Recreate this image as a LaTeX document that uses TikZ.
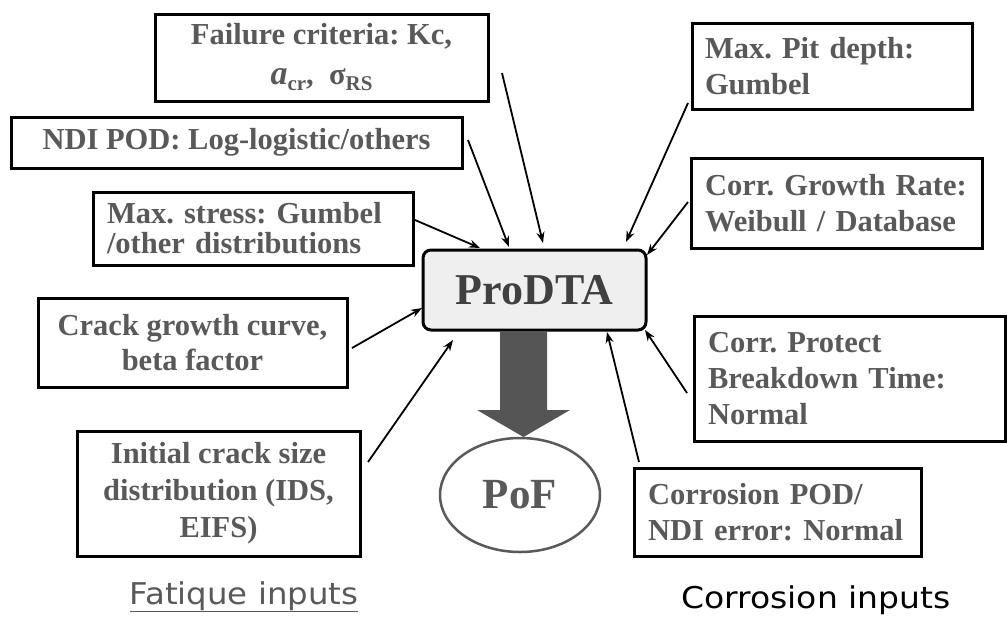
\documentclass[tikz,border=0pt]{standalone}
\usepackage{fontspec}
\setmainfont{Liberation Serif}
\newfontfamily\labfont{DejaVu Sans}
\usetikzlibrary{arrows.meta,shapes.geometric}
\definecolor{txtgray}{HTML}{595959}
\definecolor{titlegray}{HTML}{404040}
\definecolor{arrgray}{HTML}{555555}
\definecolor{boxfill}{HTML}{EFEFEF}
\frenchspacing
\begin{document}
\begin{tikzpicture}[x=1pt,y=-1pt,
  inbox/.style={draw=black, line width=3pt, inner sep=0pt, text=txtgray},
  tf/.style={font=\fontsize{30.5}{#1}\selectfont\bfseries},
  conn/.style={line width=1.8pt, -{Stealth[length=11pt,width=8pt]}},
  lab/.style={font=\labfont\fontsize{30}{34}\selectfont, anchor=base}
]
\useasboundingbox (0,0) rectangle (1007,622);

% fatigue inputs
\node[inbox, tf=35, minimum width=333pt, minimum height=87pt, align=center] (fail) at (321.5,57.5)
  {Failure criteria: Kc,\\[5pt]{\fontsize{34}{34}\selectfont\textit{a}}\raisebox{-6pt}{\fontsize{21}{21}\selectfont cr},\ \ σ\raisebox{-6pt}{\fontsize{21}{21}\selectfont RS}};
\node[inbox, tf=35, minimum width=451pt, minimum height=51pt, align=center] (ndi) at (236.5,142.5)
  {NDI POD: Log-logistic/others};
\node[inbox, tf=30, minimum width=320pt, minimum height=73pt, text width=292pt, align=left] (stress) at (253,228.5)
  {Max. stress: Gumbel\\/other distributions};
\node[inbox, tf=35, minimum width=309pt, minimum height=89pt, align=center] (crack) at (192.5,342.5)
  {Crack growth curve,\\beta factor};
\node[inbox, tf=37, minimum width=283pt, minimum height=125pt, align=center] (init) at (218.5,493.5)
  {Initial crack size\\distribution (IDS,\\EIFS)};

% corrosion inputs
\node[inbox, tf=36, minimum width=280pt, minimum height=86pt, text width=254pt, align=left] (pit) at (832,66)
  {Max. Pit depth:\\Gumbel};
\node[inbox, tf=36, minimum width=291pt, minimum height=90pt, text width=263pt, align=left] (growth) at (836.5,203)
  {Corr. Growth Rate:\\Weibull / Database};
\node[inbox, tf=36, minimum width=311pt, minimum height=125pt, text width=283pt, align=left] (protect) at (849.5,378.5)
  {Corr. Protect\\Breakdown Time:\\Normal};
\node[inbox, tf=36, minimum width=287pt, minimum height=88pt, text width=259pt, align=left] (cpod) at (777.5,512)
  {Corrosion POD/\\NDI error: Normal};

% centre
\node[draw=black, line width=3pt, rounded corners=8pt, fill=boxfill, minimum width=223pt, minimum height=80pt,
  inner sep=0pt, text=titlegray, font=\fontsize{44}{44}\selectfont\bfseries] (prodta) at (534.5,290) {ProDTA};
\node[ellipse, draw=txtgray, line width=2.5pt, minimum width=160pt, minimum height=114pt, inner sep=0pt,
  text=txtgray, font=\fontsize{43}{43}\selectfont\bfseries] (pof) at (520,495) {PoF};

% block arrow ProDTA -> PoF
\fill[arrgray] (500,331.5) -- (547,331.5) -- (547,410) -- (570,410) -- (523.5,437) -- (477,410) -- (500,410) -- cycle;

% connector ends
\coordinate (failS) at (502,73);    \coordinate (failT) at (543,243);
\coordinate (ndiS) at (468,140);    \coordinate (ndiT) at (509,247);
\coordinate (stressS) at (415,220); \coordinate (stressT) at (480,248);
\coordinate (crackS) at (352,348);  \coordinate (crackT) at (422,308);
\coordinate (initS) at (368,462);   \coordinate (initT) at (453,340);
\coordinate (pitS) at (688,103);    \coordinate (pitT) at (626,242);
\coordinate (growthS) at (688,202); \coordinate (growthT) at (647,255);
\coordinate (protectS) at (687,393);\coordinate (protectT) at (645,330);
\coordinate (cpodS) at (639,462);   \coordinate (cpodT) at (607,332);

\draw[conn] (failS) -- (failT);
\draw[conn] (ndiS) -- (ndiT);
\draw[conn] (stressS) -- (stressT);
\draw[conn] (crackS) -- (crackT);
\draw[conn] (initS) -- (initT);
\draw[conn] (pitS) -- (pitT);
\draw[conn] (growthS) -- (growthT);
\draw[conn] (protectS) -- (protectT);
\draw[conn] (cpodS) -- (cpodT);

% group labels
\node[lab, text=txtgray] (fat) at (244,604) {\scalebox{1.08}[1]{\underline{Fatique inputs}}};
\node[lab, text=black] (cor) at (816,608) {\scalebox{1.1}[1]{Corrosion inputs}};
\end{tikzpicture}
\end{document}
